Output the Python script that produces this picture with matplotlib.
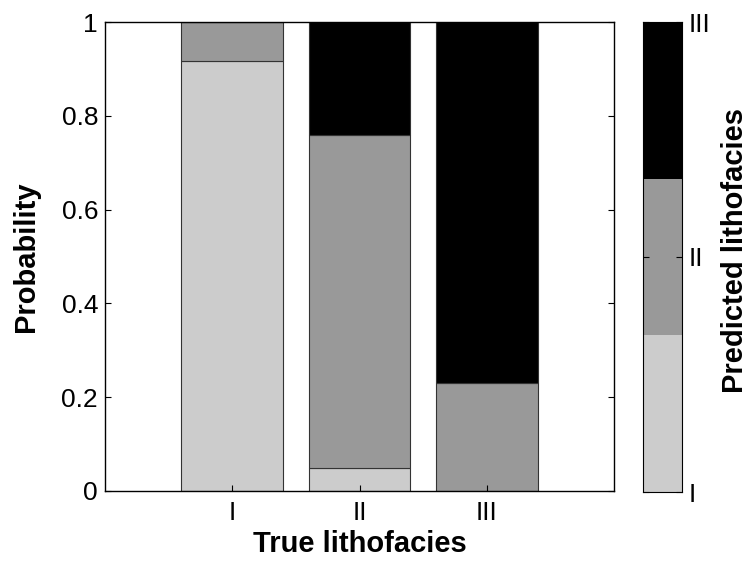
import matplotlib
matplotlib.use("Agg")
import matplotlib.pyplot as plt
import numpy as np
from matplotlib.colors import ListedColormap

plt.rcParams["font.family"] = ["Liberation Sans", "DejaVu Sans"]

true_facies = ["I", "II", "III"]
pred_facies = ["I", "II", "III"]
# probability of each predicted facies (stacked) given the true facies
p_I = [0.917, 0.048, 0.0]
p_II = [0.083, 0.711, 0.230]
p_III = [0.0, 0.241, 0.770]
colors = ["#cccccc", "#999999", "#000000"]

fig = plt.figure(figsize=(7.48, 5.68), dpi=100)
ax = fig.add_axes([105 / 748, 1 - 491 / 568, 509 / 748, 469 / 568])
cax = fig.add_axes([643 / 748, 1 - 492 / 568, 39 / 748, 470 / 568])

x = np.arange(1, len(true_facies) + 1)
bottom = np.zeros(len(x))
for vals, c in zip([p_I, p_II, p_III], colors):
    ax.bar(x, vals, width=0.8, bottom=bottom, color=c, edgecolor="#333333", linewidth=0.8)
    bottom += np.array(vals)

ax.set_xlim(0, 4)
ax.set_ylim(0, 1)
ax.set_xticks(x)
ax.set_xticklabels(true_facies)
ax.set_yticks([0, 0.2, 0.4, 0.6, 0.8, 1])
ax.set_yticklabels(["0", "0.2", "0.4", "0.6", "0.8", "1"])
ax.tick_params(direction="in", right=True, top=False, labelsize=19, length=4)
ax.tick_params(axis="x", pad=7)
ax.tick_params(axis="y", pad=5)
ax.set_xlabel("True lithofacies", fontsize=21, fontweight="bold")
ax.set_ylabel("Probability", fontsize=21, fontweight="bold")
ax.xaxis.set_label_coords(0.5, -0.083)
ax.yaxis.set_label_coords(-0.128, 0.5)
for s in ax.spines.values():
    s.set_linewidth(1.0)

cmap = ListedColormap(colors)
cax.pcolormesh([0, 1], np.arange(4), np.arange(3).reshape(3, 1), cmap=cmap, vmin=0, vmax=2)
cax.set_xlim(0, 1)
cax.set_ylim(0, 3)
cax.set_xticks([])
cax.yaxis.tick_right()
cax.set_yticks([0, 1.5, 3])
cax.set_yticklabels(pred_facies)
cax.tick_params(axis="y", direction="in", left=True, right=True, labelsize=19, length=4, pad=5)
cax.yaxis.set_label_position("right")
cax.set_ylabel("Predicted lithofacies", fontsize=21, fontweight="bold")
cax.yaxis.set_label_coords(2.0, 0.513)

fig.savefig("out.png", dpi=100)
